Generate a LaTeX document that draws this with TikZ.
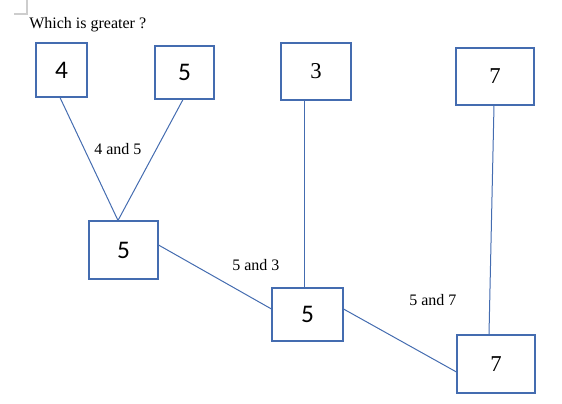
\documentclass[tikz,border=0pt]{standalone}
\usepackage{fontspec}
\setmainfont{Liberation Serif}
\newfontfamily\carl{Carlito}
\usetikzlibrary{calc}
\definecolor{boxblue}{RGB}{68,108,176}
\definecolor{markgrey}{RGB}{205,205,205}
\tikzset{
  numbox/.style={draw=boxblue, line width=0.8pt, inner sep=0pt, anchor=center},
  sansnum/.style={font=\carl\fontsize{19}{19}\selectfont},
  serifnum/.style={font=\fontsize{17}{17}\selectfont},
  lbl/.style={font=\fontsize{12}{12}\selectfont, inner sep=0pt, anchor=base west},
  link/.style={draw=boxblue, line width=0.75pt},
}
\begin{document}
\begin{tikzpicture}[x=0.75pt,y=-0.75pt]
\useasboundingbox (0,0) rectangle (562,404);
% page corner mark
\coordinate (cm1) at (27,0);
\coordinate (cm2) at (27,14);
\coordinate (cm3) at (14,14);
\draw[markgrey, line width=0.8pt] (cm1) -- (cm2) -- (cm3);
% title
\node[lbl] (title) at (29,28) {Which is greater ?};
% boxes
\node[numbox, sansnum, minimum width=38.25pt, minimum height=40.5pt] (a4) at (61.5,70) {4};
\node[numbox, sansnum, minimum width=44.25pt, minimum height=39.75pt] (b5) at (184.5,72.5) {5};
\node[numbox, serifnum, minimum width=52.5pt, minimum height=42.75pt] (c3) at (316,71.5) {3};
\node[numbox, serifnum, minimum width=58.5pt, minimum height=42.75pt] (d7) at (495,76.5) {7};
\node[numbox, sansnum, minimum width=51.75pt, minimum height=43.5pt] (m5) at (123.5,250) {5};
\node[numbox, sansnum, minimum width=53.25pt, minimum height=39.75pt] (n5) at (307.5,314.5) {5};
\node[numbox, serifnum, minimum width=58.5pt, minimum height=43.5pt] (f7) at (496,364) {7};
% connection points
\coordinate (m5top) at ($(m5.north)+(-5.5,0)$);
\coordinate (m5right) at ($(m5.east)+(0,-5)$);
\coordinate (c3bot) at ($(c3.south)+(-12,0)$);
\coordinate (n5top) at ($(n5.north)+(-3.5,0)$);
\coordinate (n5left) at ($(n5.west)+(0,-5.5)$);
\coordinate (n5right) at ($(n5.east)+(0,-5.5)$);
\coordinate (d7bot) at ($(d7.south)+(-1,0)$);
\coordinate (f7top) at ($(f7.north)+(-7,0)$);
\coordinate (f7left) at ($(f7.west)+(0,8)$);
% connectors
\draw[link] ($(a4.south)+(-1.5,0)$) -- (m5top);
\draw[link] ($(b5.south)+(-1.5,0)$) -- (m5top);
\draw[link] (m5right) -- (n5left);
\draw[link] (c3bot) -- (n5top);
\draw[link] (n5right) -- (f7left);
\draw[link] (d7bot) -- (f7top);
% labels
\node[lbl] (l45) at (94,154) {4 and 5};
\node[lbl] (l53) at (232,270) {5 and 3};
\node[lbl] (l57) at (409,305) {5 and 7};
\end{tikzpicture}
\end{document}
